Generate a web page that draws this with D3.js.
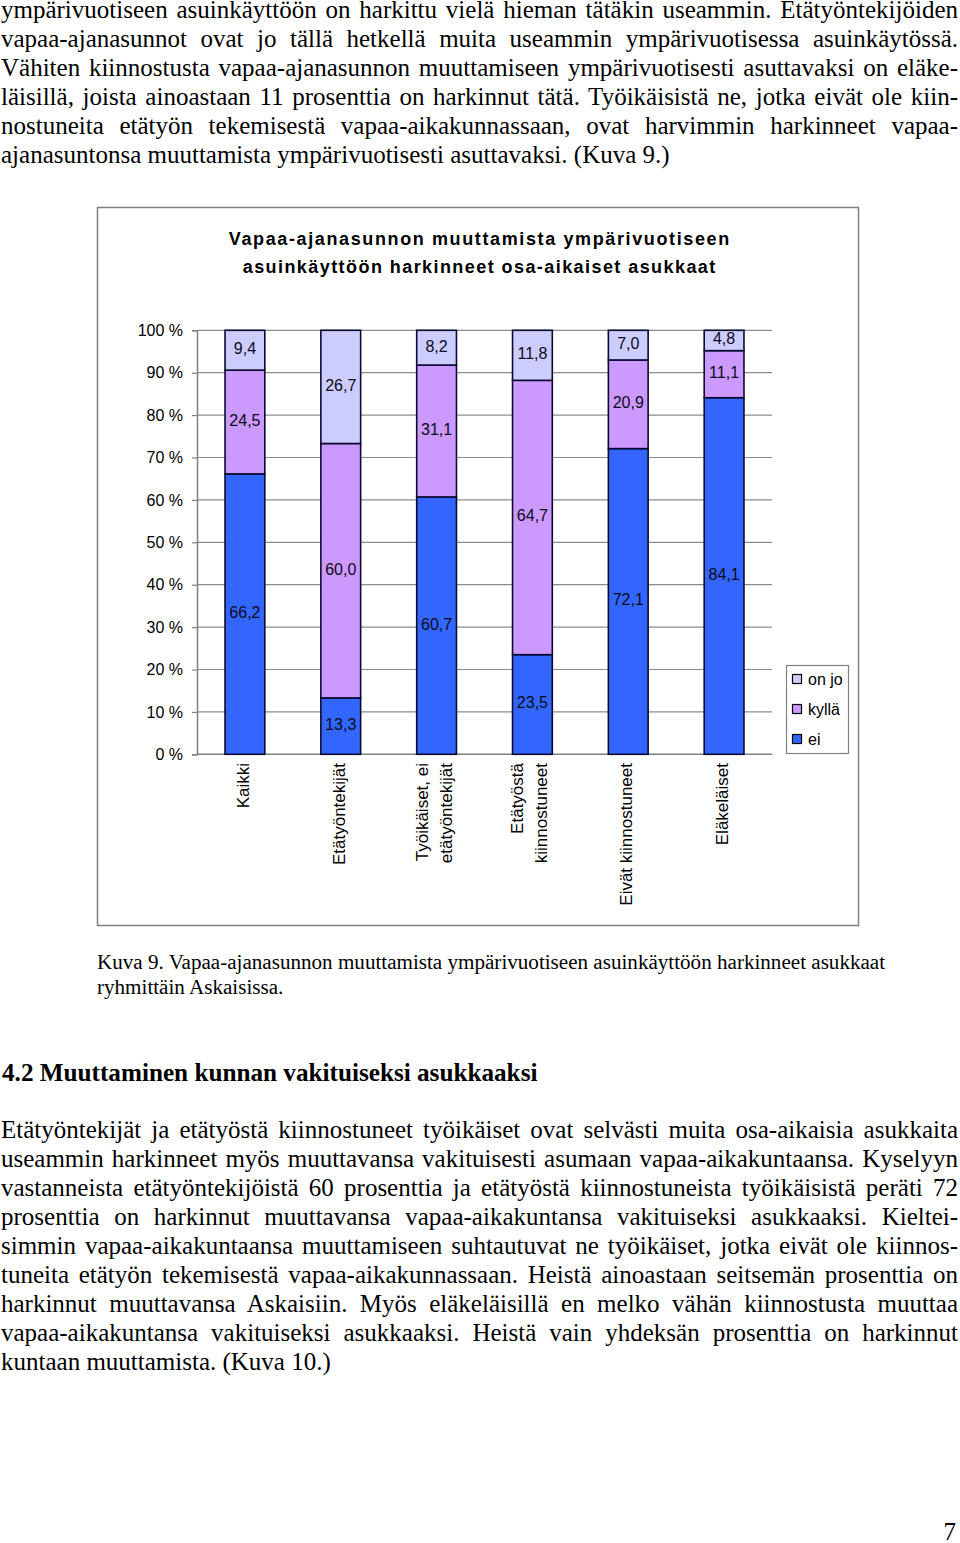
<!DOCTYPE html>
<html>
<head>
<meta charset="utf-8">
<script src="https://cdn.jsdelivr.net/npm/d3@7"></script>
<style>
  html, body { margin: 0; padding: 0; background: #fff; }
  svg { display: block; }
</style>
</head>
<body>
<script>
// ---------- DATA ----------
const categories = ["Kaikki", "Etätyöntekijät", "Työikäiset, ei\netätyöntekijät", "Etätyöstä\nkiinnostuneet", "Eivät kiinnostuneet", "Eläkeläiset"];
const seriesNames = ["ei", "kyllä", "on jo"];
const eiValues = [66.2, 13.3, 60.7, 23.5, 72.1, 84.1];
const kyllaValues = [24.5, 60.0, 31.1, 64.7, 20.9, 11.1];
const onJoValues = [9.4, 26.7, 8.2, 11.8, 7.0, 4.8];
const yTicks = [0, 0.1, 0.2, 0.3, 0.4, 0.5, 0.6, 0.7, 0.8, 0.9, 1.0];
const titleLines = ["Vapaa-ajanasunnon muuttamista ympärivuotiseen", "asuinkäyttöön harkinneet osa-aikaiset asukkaat"];

const para1 = [
  "ympärivuotiseen asuinkäyttöön on harkittu vielä hieman tätäkin useammin. Etätyöntekijöiden",
  "vapaa-ajanasunnot ovat jo tällä hetkellä muita useammin ympärivuotisessa asuinkäytössä.",
  "Vähiten kiinnostusta vapaa-ajanasunnon muuttamiseen ympärivuotisesti asuttavaksi on eläke-",
  "läisillä, joista ainoastaan 11 prosenttia on harkinnut tätä. Työikäisistä ne, jotka eivät ole kiin-",
  "nostuneita etätyön tekemisestä vapaa-aikakunnassaan, ovat harvimmin harkinneet vapaa-",
  "ajanasuntonsa muuttamista ympärivuotisesti asuttavaksi. (Kuva 9.)"
];
const captionLines = [
  "Kuva 9. Vapaa-ajanasunnon muuttamista ympärivuotiseen asuinkäyttöön harkinneet asukkaat",
  "ryhmittäin Askaisissa."
];
const heading = "4.2 Muuttaminen kunnan vakituiseksi asukkaaksi";
const para2 = [
  "Etätyöntekijät ja etätyöstä kiinnostuneet työikäiset ovat selvästi muita osa-aikaisia asukkaita",
  "useammin harkinneet myös muuttavansa vakituisesti asumaan vapaa-aikakuntaansa. Kyselyyn",
  "vastanneista etätyöntekijöistä 60 prosenttia ja etätyöstä kiinnostuneista työikäisistä peräti 72",
  "prosenttia on harkinnut muuttavansa vapaa-aikakuntansa vakituiseksi asukkaaksi. Kieltei-",
  "simmin vapaa-aikakuntaansa muuttamiseen suhtautuvat ne työikäiset, jotka eivät ole kiinnos-",
  "tuneita etätyön tekemisestä vapaa-aikakunnassaan. Heistä ainoastaan seitsemän prosenttia on",
  "harkinnut muuttavansa Askaisiin. Myös eläkeläisillä en melko vähän kiinnostusta muuttaa",
  "vapaa-aikakuntansa vakituiseksi asukkaaksi. Heistä vain yhdeksän prosenttia on harkinnut",
  "kuntaan muuttamista. (Kuva 10.)"
];
const pageNumber = "7";

// ---------- LAYOUT ----------
const W = 960, H = 1543;
const svg = d3.select("body").append("svg").attr("width", W).attr("height", H);
svg.append("rect").attr("width", W).attr("height", H).attr("fill", "#fff");

const serif = "'Liberation Serif', 'Times New Roman', serif";
const sans = "'Liberation Sans', Arial, sans-serif";

function bodyLine(x, y, str, size, justifyTo, weight) {
  const t = svg.append("text")
    .attr("x", x).attr("y", y)
    .attr("font-family", serif)
    .attr("font-size", size)
    .attr("font-weight", weight || "normal")
    .attr("fill", "#000")
    .text(str);
  if (justifyTo) {
    const nat = t.node().getComputedTextLength();
    const spaces = (str.match(/ /g) || []).length;
    if (spaces > 0) {
      t.attr("word-spacing", (justifyTo - x - nat) / spaces);
    }
  }
  return t;
}

// Paragraph 1
para1.forEach((l, i) => {
  bodyLine(1, 18 + i * 29, l, 25, i < para1.length - 1 ? 958 : null);
});

// ---------- CHART ----------
const chartBox = { x: 97.5, y: 207.5, w: 761, h: 718 };
svg.append("rect")
  .attr("x", chartBox.x).attr("y", chartBox.y)
  .attr("width", chartBox.w).attr("height", chartBox.h)
  .attr("fill", "#fff").attr("stroke", "#808080").attr("stroke-width", 1.5);

// Title
const titleTargets = [502, 474];
titleLines.forEach((l, i) => {
  const t = svg.append("text")
    .attr("x", 479).attr("y", 245 + i * 28)
    .attr("text-anchor", "middle")
    .attr("font-family", sans)
    .attr("font-size", 18)
    .attr("font-weight", "bold")
    .attr("fill", "#000")
    .text(l);
  const nat = t.node().getComputedTextLength();
  const ls = (titleTargets[i] - nat) / (l.length);
  t.attr("letter-spacing", ls).attr("x", 479 + ls / 2);
});

const plot = { left: 197, right: 772, top: 330.3, bottom: 754.3 };

const x = d3.scaleBand()
  .domain(categories)
  .range([plot.left, plot.right])
  .paddingInner(0.585)
  .paddingOuter(0.2925);

const y = d3.scaleLinear().domain([0, 1]).range([plot.bottom, plot.top]);

// Gridlines
svg.append("g")
  .selectAll("line")
  .data(yTicks.filter(d => d > 0))
  .join("line")
  .attr("x1", plot.left).attr("x2", plot.right)
  .attr("y1", d => y(d)).attr("y2", d => y(d))
  .attr("stroke", "#8c8c8c").attr("stroke-width", 1.2);

// Y axis
const yAxis = d3.axisLeft(y)
  .tickValues(yTicks)
  .tickFormat(d => Math.round(d * 100) + " %")
  .tickSize(5)
  .tickPadding(9);
const yg = svg.append("g").attr("transform", `translate(${plot.left},0)`).call(yAxis);
yg.select(".domain").attr("stroke", "#808080").attr("stroke-width", 1.5);
yg.selectAll(".tick line").attr("stroke", "#808080").attr("stroke-width", 1.2);
yg.selectAll(".tick text")
  .attr("font-family", sans).attr("font-size", 16).attr("fill", "#000");

// Baseline (0 %)
svg.append("line")
  .attr("x1", plot.left).attr("x2", plot.right)
  .attr("y1", y(0)).attr("y2", y(0))
  .attr("stroke", "#808080").attr("stroke-width", 1.5);

// Stacked data
const colors = { "ei": "#3366ff", "kyllä": "#cc99ff", "on jo": "#ccccff" };
const rows = categories.map((c, i) => {
  const tot = eiValues[i] + kyllaValues[i] + onJoValues[i];
  return { cat: c, "ei": eiValues[i], "kyllä": kyllaValues[i], "on jo": onJoValues[i], total: tot };
});
const stack = d3.stack().keys(seriesNames)
  .value((d, k) => d[k] / d.total);
const stacked = stack(rows);

const segG = svg.append("g");
stacked.forEach(layer => {
  const key = layer.key;
  layer.forEach((seg, i) => {
    const r = rows[i];
    segG.append("rect")
      .attr("x", x(r.cat))
      .attr("y", y(seg[1]))
      .attr("width", x.bandwidth())
      .attr("height", y(seg[0]) - y(seg[1]))
      .attr("fill", colors[key])
      .attr("stroke", "#0a0a30")
      .attr("stroke-width", 1.6);
  });
});
// Labels
stacked.forEach(layer => {
  const key = layer.key;
  layer.forEach((seg, i) => {
    const r = rows[i];
    segG.append("text")
      .attr("x", x(r.cat) + x.bandwidth() / 2)
      .attr("y", (y(seg[0]) + y(seg[1])) / 2 - 1.5)
      .attr("text-anchor", "middle")
      .attr("dominant-baseline", "central")
      .attr("font-family", sans)
      .attr("font-size", 16)
      .attr("fill", "#0a0a20")
      .text(d3.format(".1f")(r[key]).replace(".", ","));
  });
});

// Category labels (rotated)
const catG = svg.append("g");
categories.forEach(c => {
  const cx = x(c) + x.bandwidth() / 2;
  const lines = c.split("\n");
  const g = catG.append("g").attr("transform", `translate(${cx},763) rotate(-90)`);
  const offsets = lines.length === 1 ? [-1.5] : [-14.5, 9.5];
  lines.forEach((l, j) => {
    g.append("text")
      .attr("x", 0).attr("y", offsets[j])
      .attr("text-anchor", "end")
      .attr("dominant-baseline", "central")
      .attr("font-family", sans)
      .attr("font-size", 17)
      .attr("fill", "#000")
      .text(l);
  });
});

// Legend
const legend = svg.append("g");
legend.append("rect")
  .attr("x", 786.5).attr("y", 665.5).attr("width", 62).attr("height", 88)
  .attr("fill", "#fff").attr("stroke", "#808080").attr("stroke-width", 1.2);
const legendOrder = ["on jo", "kyllä", "ei"];
legendOrder.forEach((k, i) => {
  const cy = 679 + i * 30;
  legend.append("rect")
    .attr("x", 792.5).attr("y", cy - 4.5).attr("width", 9).attr("height", 9)
    .attr("fill", colors[k]).attr("stroke", "#000").attr("stroke-width", 1.2);
  legend.append("text")
    .attr("x", 808).attr("y", cy)
    .attr("dominant-baseline", "central")
    .attr("font-family", sans).attr("font-size", 16).attr("fill", "#000")
    .text(k);
});

// ---------- CAPTION / HEADING / PARA 2 ----------
captionLines.forEach((l, i) => {
  bodyLine(97, 969 + i * 25, l, 21.1, null);
});
bodyLine(2, 1081, heading, 25.2, null, "bold");
para2.forEach((l, i) => {
  bodyLine(1, 1138 + i * 29, l, 25, i < para2.length - 1 ? 958 : null);
});
svg.append("text")
  .attr("x", 956).attr("y", 1540)
  .attr("text-anchor", "end")
  .attr("font-family", serif).attr("font-size", 25).attr("fill", "#000")
  .text(pageNumber);
</script>
</body>
</html>
